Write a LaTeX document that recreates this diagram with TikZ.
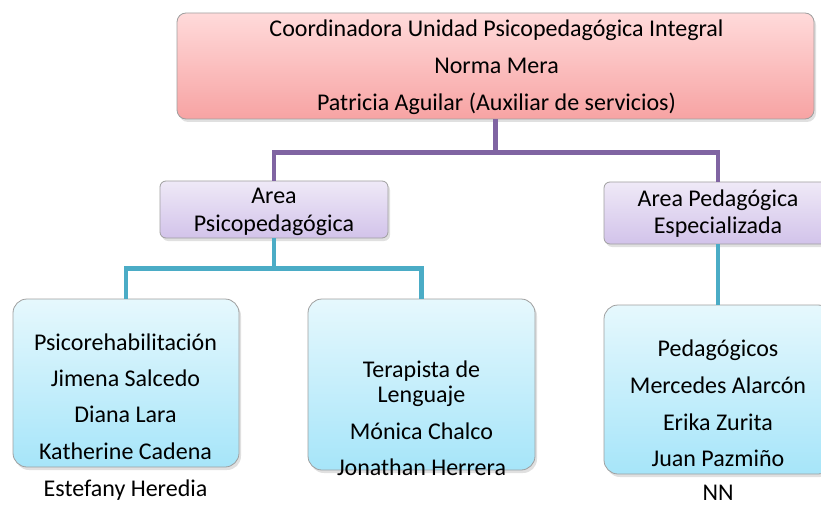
\documentclass[tikz,border=0pt]{standalone}
\usepackage{fontspec}
\setmainfont{Carlito}
\usetikzlibrary{shadows}
\definecolor{pinkT}{HTML}{FFDADA}
\definecolor{pinkB}{HTML}{F7A3A3}
\definecolor{purT}{HTML}{EFE9F7}
\definecolor{purB}{HTML}{D2C3EA}
\definecolor{tealT}{HTML}{E6F8FD}
\definecolor{tealB}{HTML}{A6E5F9}
\definecolor{purLine}{HTML}{8064A2}
\definecolor{tealLine}{HTML}{4BACC6}
\tikzset{
  boxbase/.style={rounded corners=9pt, draw=gray!75, line width=0.8pt, inner sep=0pt,
    drop shadow={shadow xshift=2pt, shadow yshift=-3pt, opacity=0.3, fill=gray!80}},
  pinkbox/.style={boxbase, top color=pinkT, bottom color=pinkB},
  purbox/.style={boxbase, rounded corners=6pt, top color=purT, bottom color=purB},
  tealbox/.style={boxbase, rounded corners=14pt, top color=tealT, bottom color=tealB},
  txt/.style={anchor=base, inner sep=0pt, font=\fontsize{24}{29}\selectfont},
  pline/.style={draw=purLine, line width=4.5pt},
  tline/.style={draw=tealLine, line width=4.5pt},
}
\begin{document}
\begin{tikzpicture}[x=1pt, y=-1pt]
\useasboundingbox (0,0) rectangle (821,505);
\clip (0,0) rectangle (821,505);
% boxes
\node[pinkbox, minimum width=637pt, minimum height=106pt] (top) at (495.5,66) {};
\node[purbox, minimum width=228pt, minimum height=57pt] (lp) at (274,209.5) {};
\node[purbox, minimum width=228pt, minimum height=62pt] (rp) at (718,213) {};
\node[tealbox, minimum width=226pt, minimum height=168pt] (bl) at (126,383) {};
\node[tealbox, minimum width=227pt, minimum height=171pt] (bm) at (421.5,384.5) {};
\node[tealbox, minimum width=228pt, minimum height=169pt] (br) at (718,389.5) {};
% connectors
\draw[pline] (top.south) -- ++(0,33) coordinate (pj) -| (lp.north);
\draw[pline] (pj) -| (rp.north);
\draw[tline] (lp.south) -- ++(0,30) coordinate (tj) -| (bl.north);
\draw[tline] (tj) -| (bm.north);
\draw[tline] (rp.south) -- (br.north);
% texts
\node[txt] (t1) at (496.5,37) {Coordinadora Unidad Psicopedagógica Integral};
\node[txt] (t2) at (496.5,74) {Norma Mera};
\node[txt] (t3) at (496.5,111) {Patricia Aguilar (Auxiliar de servicios)};
\node[txt] (l1) at (274,203) {Area};
\node[txt] (l2) at (274,231) {Psicopedagógica};
\node[txt] (r1) at (718,206) {Area Pedagógica};
\node[txt] (r2) at (718,233) {Especializada};
\node[txt] (a1) at (125.5,350) {Psicorehabilitación};
\node[txt] (a2) at (125.5,386.5) {Jimena Salcedo};
\node[txt] (a3) at (125.5,422.5) {Diana Lara};
\node[txt] (a4) at (125.5,459) {Katherine Cadena};
\node[txt] (a5) at (125.5,496) {Estefany Heredia};
\node[txt] (b1) at (421.5,377) {Terapista de};
\node[txt] (b2) at (421.5,402) {Lenguaje};
\node[txt] (b3) at (421.5,439) {Mónica Chalco};
\node[txt] (b4) at (421.5,475) {Jonathan Herrera};
\node[txt] (c1) at (718,356.5) {Pedagógicos};
\node[txt] (c2) at (718,393) {Mercedes Alarcón};
\node[txt] (c3) at (718,430) {Erika Zurita};
\node[txt] (c4) at (718,466.5) {Juan Pazmiño};
\node[txt] (c5) at (718,500) {NN};
\end{tikzpicture}
\end{document}
